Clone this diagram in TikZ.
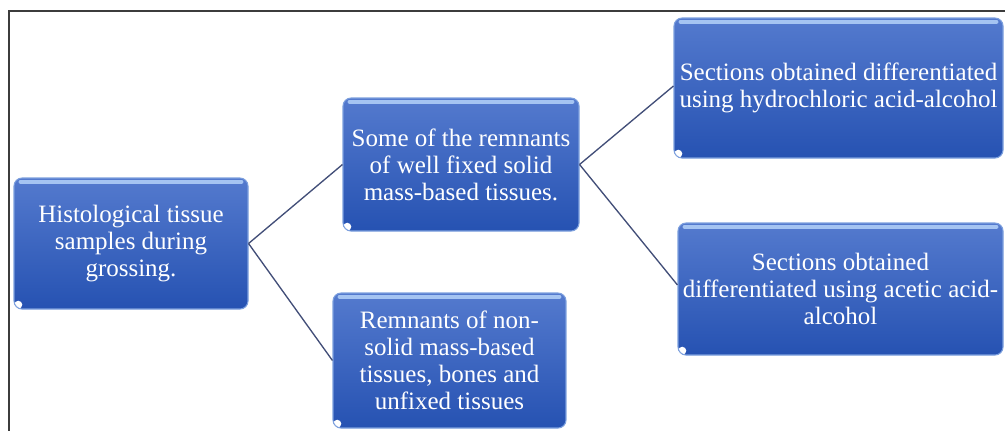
\documentclass[tikz,border=0pt]{standalone}
\usepackage{fontspec}
\setmainfont{Liberation Serif}
\definecolor{boxtop}{RGB}{84,122,206}
\definecolor{boxbot}{RGB}{38,82,178}
\definecolor{boxedge}{RGB}{125,160,222}
\definecolor{boxhl}{RGB}{165,196,242}
\definecolor{connc}{RGB}{66,78,120}
\definecolor{framec}{RGB}{60,60,60}
\tikzset{
  bluebox/.style={rounded corners=6pt, draw=boxedge, line width=0.8pt,
    top color=boxtop, bottom color=boxbot, text=white, align=center,
    inner sep=0pt, font=\fontsize{18.75}{20.3}\selectfont,
    path picture={
      \draw[boxhl, line width=3.2pt, line cap=round]
        ([xshift=5pt,yshift=-2.8pt]path picture bounding box.north west) --
        ([xshift=-5pt,yshift=-2.8pt]path picture bounding box.north east);
      \fill[white] ([xshift=3.2pt,yshift=3.2pt]path picture bounding box.south west) circle (3pt);
    }},
  conn/.style={draw=connc, line width=1pt},
  frame/.style={draw=framec, line width=1.2pt}
}
\begin{document}
\begin{tikzpicture}[x=0.75pt,y=-0.75pt]
\useasboundingbox (0,0) rectangle (1005,430);
\fill[white] (0,0) rectangle (1005,430);
\coordinate (f1) at (9,432);
\coordinate (f2) at (9,11);
\coordinate (f3) at (1007,11);
\draw[frame] (f1) -- (f2) -- (f3);
\node[bluebox, minimum width=234*0.75pt, minimum height=131*0.75pt] (a) at (131,243.5)
  {Histological tissue\\samples during\\grossing.};
\node[bluebox, minimum width=236*0.75pt, minimum height=133*0.75pt] (b) at (461,164.5)
  {Some of the remnants\\of well fixed solid\\mass-based tissues.};
\node[bluebox, minimum width=233*0.75pt, minimum height=135*0.75pt] (c) at (449.5,360.5)
  {Remnants of non-\\solid mass-based\\tissues, bones and\\unfixed tissues};
\node[bluebox, minimum width=329*0.75pt, minimum height=140*0.75pt] (d) at (838.5,88)
  {Sections obtained differentiated\\using hydrochloric acid-alcohol};
\node[bluebox, minimum width=325*0.75pt, minimum height=132*0.75pt] (e) at (840.5,289)
  {Sections obtained\\differentiated using acetic acid-\\alcohol};
\draw[conn] (a.east) -- (b.west);
\draw[conn] (a.east) -- (c.west);
\draw[conn] (b.east) -- ([yshift=1.5pt]d.west);
\draw[conn] (b.east) -- ([yshift=3pt]e.west);
\end{tikzpicture}
\end{document}
